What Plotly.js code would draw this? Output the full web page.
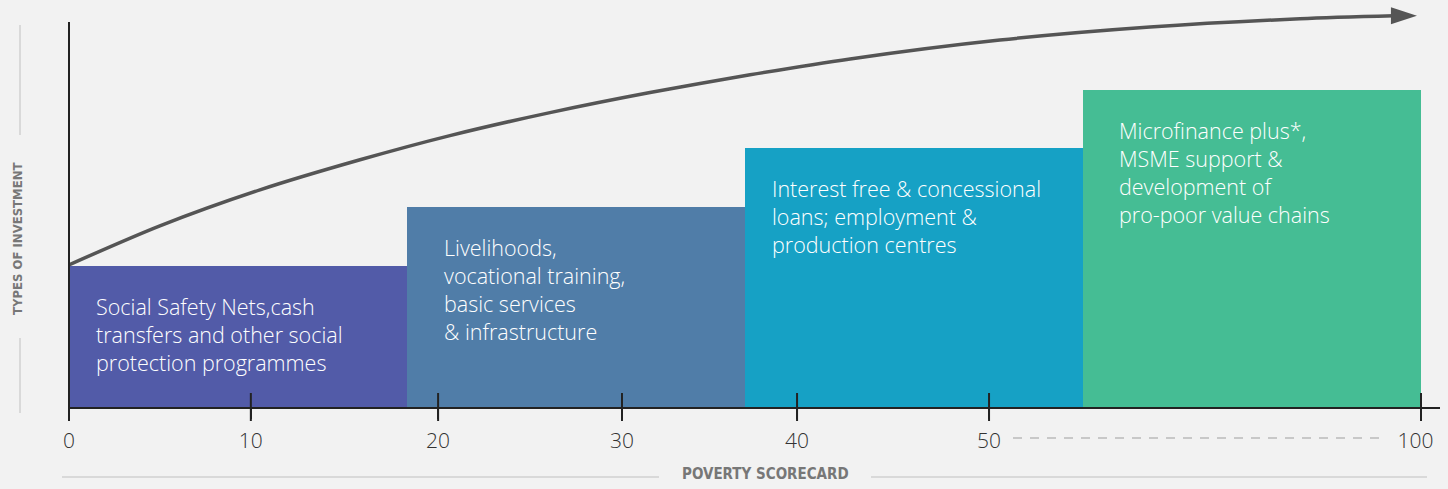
<!DOCTYPE html>
<html>
<head>
<meta charset="utf-8">
<script src="https://cdn.plot.ly/plotly-3.0.1.min.js"></script>
<style>
  html, body { margin: 0; padding: 0; background: #f2f2f2; }
  #chart { width: 1448px; height: 489px; }
</style>
</head>
<body>
<div id="chart"></div>
<script>
// ---------------- DATA ----------------
const categories = [
  "Social Safety Nets,cash<br>transfers and other social<br>protection programmes",
  "Livelihoods,<br>vocational training,<br>basic services<br>& infrastructure",
  "Interest free & concessional<br>loans; employment &<br>production centres",
  "Microfinance plus*,<br>MSME support &<br>development of<br>pro-poor value chains"
];
const barCenters = [0.5, 1.5, 2.5, 3.5];
const barLevels = [2.39, 3.39, 4.39, 5.37];
const tickPositions = [0, 0.538, 1.092, 1.636, 2.154, 2.722, 4.0];
const tickLabels = ["0", "10", "20", "30", "40", "50", "100"];
const curveX = [0, 0.269, 0.565, 0.861, 1.127, 1.423, 1.719, 2.015, 2.311, 2.754, 3.198, 3.642, 3.92];
const curveY = [2.41, 3.07, 3.68, 4.19, 4.60, 4.99, 5.33, 5.63, 5.90, 6.22, 6.44, 6.58, 6.63];
const arrowTip = [3.988, 6.63];
const xTitle = "POVERTY SCORECARD";
const yTitle = "TYPES OF INVESTMENT";

// ---------------- STYLE ----------------
const barColors = ["#525ba8", "#507da8", "#16a1c5", "#45bd94"];
const textShiftX = [25, 35, 25, 34];
const W = 1448, H = 489;
const M = { l: 69, r: 8, t: 6, b: 82 };
const plotW = W - M.l - M.r, plotH = H - M.t - M.b;
const pxPerX = 338, pxPerY = 59;
const pxX = px => (px - M.l) / plotW;
const pxY = py => (H - M.b - py) / plotH;

const bodyFont = "'Open Sans', 'Liberation Sans', Arial, sans-serif";
const condFont = "'DejaVu Sans Condensed', 'Liberation Sans Narrow', 'Arial Narrow', sans-serif";

const traces = [
  {
    type: "bar", x: barCenters, y: barLevels, width: 1,
    marker: { color: barColors, line: { width: 0 } },
    hoverinfo: "skip", showlegend: false
  },
  {
    type: "scatter", mode: "lines", x: curveX, y: curveY,
    line: { color: "#555555", width: 3.5, shape: "spline", smoothing: 0.8 },
    hoverinfo: "skip", showlegend: false
  },
  {
    type: "scatter", mode: "markers", x: tickPositions, y: tickPositions.map(() => 0),
    marker: { symbol: "line-ns", size: 20, line: { width: 2, color: "#222222" } },
    cliponaxis: false, hoverinfo: "skip", showlegend: false
  }
];

const annotations = categories.map((t, i) => ({
  text: t, x: barCenters[i] - 0.5, y: barLevels[i], xref: "x", yref: "y",
  xanchor: "left", yanchor: "top", align: "left", showarrow: false,
  xshift: textShiftX[i], yshift: -24,
  font: { family: bodyFont, size: 21.5, color: "#ffffff", weight: 300 }
}));
annotations.push({
  text: xTitle, xref: "paper", yref: "paper", x: pxX(765), y: pxY(474),
  xanchor: "center", yanchor: "middle", showarrow: false,
  font: { family: condFont, size: 15, color: "#777777", weight: 700 }
});
annotations.push({
  text: yTitle, xref: "paper", yref: "paper", x: pxX(17), y: pxY(239),
  xanchor: "center", yanchor: "middle", showarrow: false, textangle: -90,
  font: { family: condFont, size: 13, color: "#777777", weight: 700 }
});

const lineShape = (x0, y0, x1, y1, color, width, dash) => ({
  type: "line", xref: "paper", yref: "paper", x0, y0, x1, y1,
  line: { color, width, dash: dash || "solid" }, layer: "above"
});

const shapes = [
  lineShape(0, pxY(413), 0, pxY(22), "#222222", 2),
  lineShape(pxX(62), pxY(477), pxX(659), pxY(477), "#d9d9d9", 2),
  lineShape(pxX(871), pxY(477), pxX(1427), pxY(477), "#d9d9d9", 2),
  lineShape(pxX(20), pxY(25), pxX(20), pxY(135), "#d9d9d9", 2),
  lineShape(pxX(20), pxY(338), pxX(20), pxY(413), "#d9d9d9", 2),
  lineShape(pxX(1013), pxY(438), pxX(1382), pxY(438), "#c8c8c8", 2, "9px,8px"),
  {
    type: "path", xref: "x", yref: "y", xsizemode: "pixel", ysizemode: "pixel",
    xanchor: arrowTip[0], yanchor: arrowTip[1],
    path: "M0,0 L-26,8.5 L-26,-8.5 Z",
    fillcolor: "#555555", line: { width: 0 }, layer: "above"
  }
];

const layout = {
  width: W, height: H, margin: M,
  paper_bgcolor: "#f2f2f2", plot_bgcolor: "#f2f2f2",
  showlegend: false, bargap: 0,
  xaxis: {
    range: [0, plotW / pxPerX], tickmode: "array", tickvals: tickPositions,
    ticktext: tickLabels.map((s, i) => i === tickLabels.length - 1 ? s + "\u00a0\u00a0" : s),
    ticklabeloverflow: "allow",
    showgrid: false, zeroline: false, showline: true, linecolor: "#222222", linewidth: 2,
    ticks: "outside", ticklen: 10, tickwidth: 2, tickcolor: "#222222",
    ticklabelstandoff: 4,
    tickfont: { family: bodyFont, size: 21, color: "#333333", weight: 300 },
    fixedrange: true
  },
  yaxis: {
    range: [0, plotH / pxPerY], showgrid: false, zeroline: false, showline: false,
    showticklabels: false, ticks: "", fixedrange: true
  },
  annotations, shapes
};

Plotly.newPlot("chart", traces, layout, { displayModeBar: false, staticPlot: true });
</script>
</body>
</html>
